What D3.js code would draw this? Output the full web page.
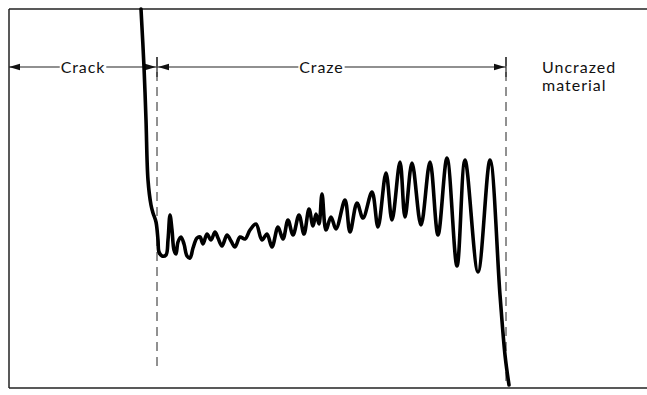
<!DOCTYPE html>
<html>
<head>
<meta charset="utf-8">
<script src="https://cdn.jsdelivr.net/npm/d3@7"></script>
<style>
  html, body { margin: 0; padding: 0; background: #fff; }
  svg { display: block; }
  text { font-family: "Lato", "DejaVu Sans", sans-serif; fill: #111; }
</style>
</head>
<body>
<svg id="chart" width="647" height="395"></svg>
<script>
// Trace of the load record across crack, craze and uncrazed material (arbitrary units)
const distance = [132, 135, 137, 139, 142, 144, 147, 149, 150, 153, 157, 159, 161, 163, 165, 167, 169, 172, 175, 178,
                  181, 184, 188, 191, 194, 198, 202, 206, 209, 213, 218, 222, 226, 231, 236, 241,
                  247, 253, 258, 263, 269, 274, 279, 284, 290, 295, 300, 304, 307, 310, 313, 317, 322, 327,
                  336, 341, 348, 354, 363, 369, 377, 383, 391, 396, 403, 412, 421, 429, 438, 448, 456, 469,
                  481, 491, 496, 500];
const load =     [379, 321, 268, 208, 183, 175, 166, 148, 136, 132, 133, 148, 173, 158, 138, 134, 146, 151, 144, 132,
                  130, 140, 150, 151, 144, 154, 148, 156, 150, 142, 153, 147, 141, 151, 149, 158,
                  164, 148, 154, 141, 161, 149, 168, 153, 173, 154, 179, 162, 174, 164, 194, 158, 171, 159,
                  188, 156, 185, 170, 196, 161, 215, 168, 226, 171, 225, 163, 226, 153, 230, 122, 228, 116,
                  228, 93, 33, 3];
// Zone boundaries along the distance axis and their labels
const zoneEdges = [0, 148, 497];
const zoneLabels = ["Crack", "Craze"];
const outsideLabel = ["Uncrazed", "material"];

const svg = d3.select("#chart");
const frame = { left: 9, top: 9, right: 647, bottom: 388 };

const x = d3.scaleLinear().domain([0, 638]).range([frame.left, frame.right]);
const y = d3.scaleLinear().domain([0, 379]).range([frame.bottom, frame.top]);

// Frame: top, left and bottom edges
const frameLines = [
  [[0, 379], [638, 379]],
  [[0, 379], [0, 0]],
  [[0, 0], [638, 0]]
];
svg.append("g").selectAll("line").data(frameLines).join("line")
  .attr("x1", d => x(d[0][0])).attr("y1", d => y(d[0][1]))
  .attr("x2", d => x(d[1][0])).attr("y2", d => y(d[1][1]))
  .attr("stroke", "#222").attr("stroke-width", 1.5);

// Dashed zone boundaries
const annY = 321;            // level of the dimension arrows
const dashTop = 331, dashBottom = [18, 6];
svg.append("g").selectAll("line").data(zoneEdges.slice(1)).join("line")
  .attr("x1", d => x(d)).attr("x2", d => x(d))
  .attr("y1", y(dashTop))
  .attr("y2", (d, i) => y(dashBottom[i]))
  .attr("stroke", "#222").attr("stroke-width", 1)
  .attr("stroke-dasharray", "9,6");

// Short solid ticks at the boundaries on the arrow line
svg.append("g").selectAll("line").data(zoneEdges.slice(1)).join("line")
  .attr("x1", d => x(d)).attr("x2", d => x(d))
  .attr("y1", y(annY + 10)).attr("y2", y(annY - 10))
  .attr("stroke", "#222").attr("stroke-width", 1.2);

// Dimension arrows with labels breaking the line
const ann = svg.append("g");
function arrowHead(px, py, dir) {
  const L = 11, W = 3.2;
  return `M${px},${py}L${px - dir * L},${py - W}L${px - dir * L},${py + W}Z`;
}
const labelShift = [0, -10];
zoneLabels.forEach((label, i) => {
  const x0 = x(zoneEdges[i]), x1 = x(zoneEdges[i + 1]);
  const cx = (x0 + x1) / 2 + labelShift[i];
  const t = ann.append("text")
    .attr("x", cx).attr("y", y(annY) + 6)
    .attr("text-anchor", "middle")
    .attr("font-size", 16)
    .attr("letter-spacing", "0.9px")
    .text(label);
  const w = t.node().getComputedTextLength();
  const gap = 1;
  ann.append("line").attr("x1", x0).attr("x2", cx - w / 2 - gap)
    .attr("y1", y(annY)).attr("y2", y(annY)).attr("stroke", "#222").attr("stroke-width", 1.1);
  ann.append("line").attr("x1", cx + w / 2 + gap).attr("x2", x1)
    .attr("y1", y(annY)).attr("y2", y(annY)).attr("stroke", "#222").attr("stroke-width", 1.1);
  ann.append("path").attr("d", arrowHead(x0 + (i === 0 ? 0 : 1), y(annY), -1)).attr("fill", "#111");
  ann.append("path").attr("d", arrowHead(x1 - 1, y(annY), 1)).attr("fill", "#111");
});

// Label for the region beyond the craze tip, one text per line
ann.selectAll("text.outside").data(outsideLabel).join("text")
  .attr("class", "outside")
  .attr("x", x(zoneEdges[2]) + 36)
  .attr("y", (d, i) => y(annY) + 6 + i * 18)
  .attr("font-size", 16).attr("letter-spacing", "1px")
  .text(d => d);

// The load trace
const pts = distance.map((d, i) => [d, load[i]]);
const line = d3.line()
  .x(d => x(d[0])).y(d => y(d[1]))
  .curve(d3.curveCatmullRom.alpha(0.5));
svg.append("path")
  .datum(pts)
  .attr("d", line)
  .attr("fill", "none")
  .attr("stroke", "#000")
  .attr("stroke-width", 3.6)
  .attr("stroke-linejoin", "round")
  .attr("stroke-linecap", "round");
</script>
</body>
</html>
